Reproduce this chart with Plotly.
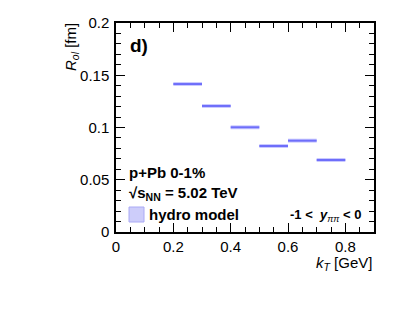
import plotly.graph_objects as go

# data
kt_low = [0.2, 0.3, 0.4, 0.5, 0.6, 0.7]
kt_high = [0.3, 0.4, 0.5, 0.6, 0.7, 0.8]
r_ol = [0.1416, 0.1206, 0.1002, 0.0823, 0.0874, 0.0689]

xs, ys = [], []
for lo, hi, v in zip(kt_low, kt_high, r_ol):
    xs += [lo, hi, None]
    ys += [v, v, None]

fig = go.Figure()
fig.add_trace(go.Scatter(x=xs, y=ys, mode="lines",
                         line=dict(color="rgba(150,150,255,0.5)", width=4),
                         hoverinfo="skip", showlegend=False))
fig.add_trace(go.Scatter(x=xs, y=ys, mode="lines",
                         line=dict(color="rgb(110,110,250)", width=2),
                         showlegend=False))

font = "Liberation Sans, Arial, Helvetica, sans-serif"
axis_common = dict(
    showgrid=False, zeroline=False, showline=True, linecolor="black",
    linewidth=1.5, mirror="ticks", ticks="inside", tickcolor="black",
    tickwidth=1.2, ticklen=9, automargin=False,
    tickfont=dict(family=font, size=15, color="black"),
)
fig.update_xaxes(range=[0, 0.9], tick0=0, dtick=0.2, tickformat="~g",
                 minor=dict(dtick=0.05, ticks="inside", ticklen=5,
                            tickcolor="black", tickwidth=1.2),
                 **axis_common)
fig.update_yaxes(range=[0, 0.2], tick0=0, dtick=0.05, tickformat="~g",
                 minor=dict(dtick=0.01, ticks="inside", ticklen=5,
                            tickcolor="black", tickwidth=1.2),
                 ticklabelstandoff=2,
                 **axis_common)

# plot area in reference pixels: x 116..374, y 23..232
def pxx(px):
    return (px - 116) / 258.0

def pxy(py):
    return (232 - py) / 209.0

ann = [
    dict(text="<i>R</i><sub><i>ol</i></sub> [fm]", x=pxx(72), y=pxy(21),
         xanchor="center", yanchor="top", textangle=-90, font_size=15),
    dict(text="<i>k</i><sub><i>T</i></sub> [GeV]", x=pxx(374), y=pxy(263),
         xanchor="right", yanchor="middle", font_size=15),
    dict(text="<b>d)</b>", x=pxx(128), y=pxy(45), xanchor="left",
         yanchor="middle", font_size=19),
    dict(text="<b>p+Pb 0-1%</b>", x=pxx(127), y=pxy(172), xanchor="left",
         yanchor="middle", font_size=15),
    dict(text="<b>√s<sub>NN</sub> = 5.02 TeV</b>", x=pxx(127), y=pxy(193),
         xanchor="left", yanchor="middle", font_size=15),
    dict(text="<b>hydro model</b>", x=pxx(147), y=pxy(214), xanchor="left",
         yanchor="middle", font_size=15),
    dict(text="<b>-1 <  <i>y</i></b><sub><i>ππ</i></sub><b> < 0</b>",
         x=pxx(363), y=pxy(215), xanchor="right", yanchor="middle",
         font_size=13),
]
for a in ann:
    fs = a.pop("font_size")
    a.update(xref="paper", yref="paper", showarrow=False,
             font=dict(family=font, size=fs, color="black"))
    fig.add_annotation(**a)

fig.add_shape(type="rect", xref="paper", yref="paper",
              x0=pxx(129), x1=pxx(144), y0=pxy(222), y1=pxy(207),
              fillcolor="rgb(205,205,250)", line=dict(color="rgb(170,170,245)", width=1))

# page body adds an offset of ~8px; compensate in margins
fig.update_layout(
    width=415, height=313,
    margin=dict(l=108, r=49, t=15, b=89),
    paper_bgcolor="white", plot_bgcolor="white",
    showlegend=False,
    font=dict(family=font, color="black"),
)

fig.write_html("out.html")
